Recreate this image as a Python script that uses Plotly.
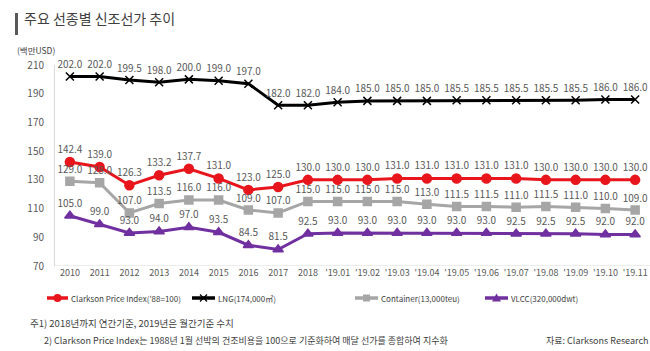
import plotly.graph_objects as go

categories = ['2010', '2011', '2012', '2013', '2014', '2015', '2016', '2017', '2018',
              "'19.01", "'19.02", "'19.03", "'19.04", "'19.05", "'19.06", "'19.07",
              "'19.08", "'19.09", "'19.10", "'19.11"]
clarkson = [142.4, 139.0, 126.3, 133.2, 137.7, 131.0, 123.0, 125.0, 130.0,
            130.0, 130.0, 131.0, 131.0, 131.0, 131.0, 131.0, 130.0, 130.0, 130.0, 130.0]
lng = [202.0, 202.0, 199.5, 198.0, 200.0, 199.0, 197.0, 182.0, 182.0,
       184.0, 185.0, 185.0, 185.0, 185.5, 185.5, 185.5, 185.5, 185.5, 186.0, 186.0]
container = [129.0, 128.0, 107.0, 113.5, 116.0, 116.0, 109.0, 107.0, 115.0,
             115.0, 115.0, 115.0, 113.0, 111.5, 111.5, 111.0, 111.5, 111.0, 110.0, 109.0]
vlcc = [105.0, 99.0, 93.0, 94.0, 97.0, 93.5, 84.5, 81.5, 92.5,
        93.0, 93.0, 93.0, 93.0, 93.0, 93.0, 92.5, 92.5, 92.5, 92.0, 92.0]
y_ticks = [70, 90, 110, 130, 150, 170, 190, 210]
series_names = ["Clarkson Price Index('88=100)", "LNG(174,000㎥)",
                "Container(13,000teu)", "VLCC(320,000dwt)"]

FONT = "Noto Sans CJK KR"
LABEL_COLOR = "#595959"
TEXT_DARK = "#404040"

styles = [("#E8161C", "circle", 9), ("#000000", "x-thin-open", 8),
          ("#A6A6A6", "square", 8), ("#7030A0", "triangle-up", 9)]
all_values = [clarkson, lng, container, vlcc]

# plot area geometry (pixels)
L, T, B, W, H = 55, 65, 85, 650, 351
PW, PH = W - L, H - T - B


def px_x(p):
    return (p - L) / PW


def px_y(p):
    return (H - B - p) / PH


fig = go.Figure()
for name, vals, (color, sym, size) in zip(series_names, all_values, styles):
    fig.add_trace(go.Scatter(
        x=categories, y=vals, name=name, showlegend=False,
        mode="lines+markers+text",
        line=dict(color=color, width=3),
        marker=dict(color=color, symbol=sym, size=size,
                    line=dict(color=color, width=1.5)),
        text=[f"{v:.1f}" for v in vals],
        textposition="top center",
        textfont=dict(family=FONT, size=10, color=LABEL_COLOR),
        cliponaxis=False,
    ))

shapes = [
    dict(type="line", xref="paper", yref="y", x0=0, x1=1, y0=70, y1=70,
         line=dict(color="#D9D9D9", width=1)),
    dict(type="rect", xref="paper", yref="paper", x0=px_x(15), x1=px_x(18),
         y0=px_y(35), y1=px_y(13), fillcolor="#595959", line=dict(width=0)),
]
annotations = []

# custom legend (sample line + marker + label)
legend_x = [(47, 68), (192, 215), (355, 378), (485, 508)]
ly = px_y(298)
for name, (color, sym, size), (a, b) in zip(series_names, styles, legend_x):
    shapes.append(dict(type="line", xref="paper", yref="paper",
                       x0=px_x(a), x1=px_x(b), y0=ly, y1=ly,
                       line=dict(color=color, width=3.5)))
    cx = px_x((a + b) / 2)
    common = dict(xref="paper", yref="paper", xsizemode="pixel", ysizemode="pixel",
                  xanchor=cx, yanchor=ly)
    if sym == "circle":
        shapes.append(dict(common, type="circle", x0=-4, x1=4, y0=-4, y1=4,
                           fillcolor=color, line=dict(width=0)))
    elif sym == "square":
        shapes.append(dict(common, type="rect", x0=-3.5, x1=3.5, y0=-3.5, y1=3.5,
                           fillcolor=color, line=dict(width=0)))
    elif sym == "triangle-up":
        shapes.append(dict(common, type="path", path="M -4.5 -3.5 L 4.5 -3.5 L 0 4.5 Z",
                           fillcolor=color, line=dict(width=0)))
    else:
        shapes.append(dict(common, type="path", path="M -3.5 -3.5 L 3.5 3.5 M -3.5 3.5 L 3.5 -3.5",
                           line=dict(color=color, width=1.2)))
    annotations.append(dict(text=name, xref="paper", yref="paper",
                            x=px_x(b + 1), y=ly, xanchor="left", yanchor="middle",
                            showarrow=False,
                            font=dict(family=FONT, size=8, color=TEXT_DARK)))

annotations += [
    dict(text="주요 선종별 신조선가 추이", xref="paper", yref="paper",
         x=px_x(22), y=px_y(18), xanchor="left", yanchor="middle", showarrow=False,
         font=dict(family=FONT, size=14, color=TEXT_DARK)),
    dict(text="(백만USD)", xref="paper", yref="paper",
         x=px_x(15), y=px_y(50), xanchor="left", yanchor="middle", showarrow=False,
         font=dict(family=FONT, size=8.5, color=TEXT_DARK)),
    dict(text="주1) 2018년까지 연간기준, 2019년은 월간기준 수치", xref="paper", yref="paper",
         x=px_x(28), y=px_y(323), xanchor="left", yanchor="middle", showarrow=False,
         font=dict(family=FONT, size=9.5, color=TEXT_DARK)),
    dict(text="2) Clarkson Price Index는 1988년 1월 선박의 건조비용을 100으로 기준화하여 매달 선가를 종합하여 지수화",
         xref="paper", yref="paper",
         x=px_x(42), y=px_y(340), xanchor="left", yanchor="middle", showarrow=False,
         font=dict(family=FONT, size=9, color=TEXT_DARK)),
    dict(text="자료: Clarksons Research", xref="paper", yref="paper",
         x=1.0, y=px_y(340), xanchor="right", yanchor="middle", showarrow=False,
         font=dict(family=FONT, size=9, color=TEXT_DARK)),
]

fig.update_layout(
    width=W, height=H,
    margin=dict(l=L, r=0, t=T, b=B),
    paper_bgcolor="white", plot_bgcolor="white",
    font=dict(family=FONT, color=LABEL_COLOR),
    showlegend=False,
    xaxis=dict(type="category", range=[-0.5, 19.5], showgrid=False,
               showline=False, ticks="", tickangle=0,
               tickfont=dict(size=9, color=LABEL_COLOR),
               fixedrange=True),
    yaxis=dict(range=[70, 210], tickvals=y_ticks, showgrid=False,
               showline=True, linecolor="#D9D9D9", linewidth=1,
               ticks="", tickfont=dict(size=10, color=LABEL_COLOR),
               zeroline=False, ticklabelstandoff=8),
    shapes=shapes,
    annotations=annotations,
)

fig.write_html("out.html")
